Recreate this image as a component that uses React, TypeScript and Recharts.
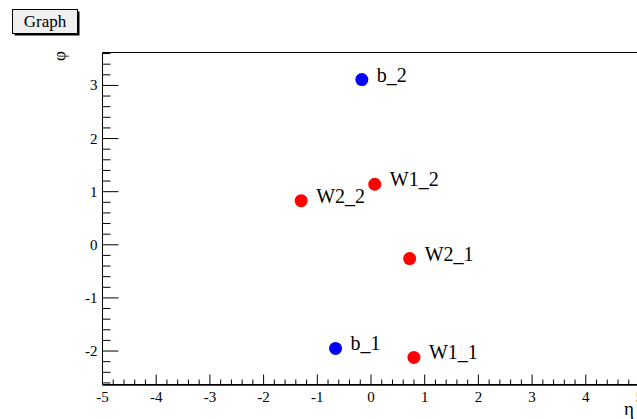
import { ScatterChart, Scatter, XAxis, YAxis, ReferenceLine } from 'recharts'

// points in (eta, phi)
const bNames = ['b_1', 'b_2']
const bEta = [-0.66, -0.17]
const bPhi = [-1.95, 3.11]

const wNames = ['W1_1', 'W2_1', 'W1_2', 'W2_2']
const wEta = [0.8, 0.72, 0.07, -1.3]
const wPhi = [-2.12, -0.26, 1.14, 0.83]

const xDomain = [-5, 5]
const yDomain = [-2.63, 3.62]
const xMajor = [-5, -4, -3, -2, -1, 0, 1, 2, 3, 4, 5]
const yMajor = [-2, -1, 0, 1, 2, 3]
const minorStep = 0.2

const FONT = '"Liberation Serif", "Times New Roman", serif'

const bData = bNames.map((name, i) => ({ name, x: bEta[i], y: bPhi[i] }))
const wData = wNames.map((name, i) => ({ name, x: wEta[i], y: wPhi[i] }))

// major + minor tick positions inside the domain
function allTicks(domain: number[]) {
  const out: number[] = []
  const k0 = Math.ceil(domain[0] / minorStep - 1e-6)
  const k1 = Math.floor(domain[1] / minorStep + 1e-6)
  for (let k = k0; k <= k1; k++) out.push(Math.round(k * minorStep * 10) / 10)
  return out
}

const isMajor = (v: number, majors: number[]) => majors.some((m) => Math.abs(m - v) < 1e-6)

const XTick = (props: any) => {
  const { x, y, payload } = props
  const major = isMajor(payload.value, xMajor)
  return (
    <g>
      <line x1={x} x2={x} y1={y} y2={y - (major ? 10 : 5)} stroke="#000" strokeWidth={1} />
      {major && (
        <text x={x} y={y + 17} textAnchor="middle" style={{ fontSize: 15, fontFamily: FONT }} fill="#000">
          {payload.value}
        </text>
      )}
    </g>
  )
}

const YTick = (props: any) => {
  const { x, y, payload } = props
  const major = isMajor(payload.value, yMajor)
  return (
    <g>
      <line x1={x} x2={x + (major ? 16 : 8)} y1={y} y2={y} stroke="#000" strokeWidth={1} />
      {major && (
        <text x={x - 5} y={y + 5} textAnchor="end" style={{ fontSize: 15, fontFamily: FONT }} fill="#000">
          {payload.value}
        </text>
      )}
    </g>
  )
}

const marker = (color: string) => (props: any) => {
  const { cx, cy, payload } = props
  return (
    <g>
      <circle cx={cx} cy={cy} r={6.5} fill={color} />
      <text x={cx + 15} y={cy + 2} style={{ fontSize: 20, fontFamily: FONT }} fill="#000">
        {payload.name}
      </text>
    </g>
  )
}

export default function App() {
  return (
    <div style={{ position: 'absolute', left: 0, top: 0, width: 637, height: 419, overflow: 'hidden', background: '#fff' }}>
      <ScatterChart width={650} height={419} margin={{ top: 52.5, right: 10.5, bottom: 0, left: 0 }}>
        <XAxis
          type="number"
          dataKey="x"
          domain={xDomain}
          ticks={allTicks(xDomain)}
          interval={0}
          height={34.5}
          tickSize={0}
          tickMargin={0}
          tickLine={false}
          axisLine={{ stroke: '#000' }}
          tick={<XTick />}
          allowDataOverflow
        />
        <YAxis
          type="number"
          dataKey="y"
          domain={yDomain}
          ticks={allTicks(yDomain)}
          interval={0}
          width={102.5}
          tickSize={0}
          tickMargin={0}
          tickLine={false}
          axisLine={{ stroke: '#000' }}
          tick={<YTick />}
          allowDataOverflow
        />
        <ReferenceLine y={yDomain[1]} stroke="#000" />
        <ReferenceLine x={xDomain[1]} stroke="#000" />
        <ReferenceLine
          y={yDomain[0]}
          stroke="#e00000"
          shape={(p: any) => <line x1={p.x1} x2={p.x2} y1={p.y1 + 1} y2={p.y2 + 1} stroke="#e00000" strokeWidth={1} />}
        />
        <Scatter data={wData} fill="#ff0000" shape={marker('#ff0000')} isAnimationActive={false} />
        <Scatter data={bData} fill="#0000ff" shape={marker('#0000ff')} isAnimationActive={false} />
      </ScatterChart>
      <svg width={637} height={419} style={{ position: 'absolute', left: 0, top: 0, pointerEvents: 'none' }}>
        <rect x={14.5} y={11.5} width={65} height={24} fill="#000" />
        <rect x={12.5} y={9.5} width={65} height={24} fill="#f0f0f0" stroke="#000" strokeWidth={1} />
        <text x={45} y={27} textAnchor="middle" style={{ fontSize: 17, fontFamily: FONT }} fill="#000">
          Graph
        </text>
        <text
          x={59}
          y={56}
          textAnchor="middle"
          dominantBaseline="central"
          style={{ fontSize: 17, fontFamily: FONT }}
          fill="#000"
          transform="rotate(-90 59 56)"
        >
          φ
        </text>
        <text x={634} y={415} textAnchor="end" style={{ fontSize: 19, fontFamily: FONT }} fill="#000">
          η
        </text>
      </svg>
    </div>
  )
}
